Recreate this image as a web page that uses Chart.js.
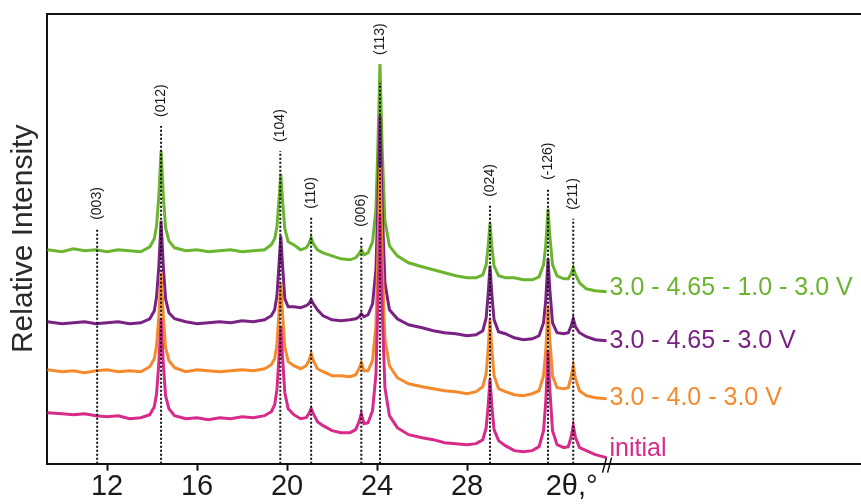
<!DOCTYPE html>
<html>
<head>
<meta charset="utf-8">
<script src="https://cdn.jsdelivr.net/npm/chart.js@4.4.1/dist/chart.umd.min.js"></script>
<style>
  html, body { margin: 0; padding: 0; background: #fff; }
  #wrap { width: 861px; height: 504px; }
</style>
</head>
<body>
<div id="wrap"><canvas id="xrdChart" width="861" height="504"></canvas></div>
<script>
// 2θ positions shared by all four patterns
const twoTheta = [9.35, 10, 10.5, 11, 11.5, 12, 12.5, 13, 13.5, 13.9,
  14.1, 14.2, 14.3, 14.4, 14.5, 14.6, 14.75, 15.0, 15.5, 16,
  16.5, 17, 17.5, 18, 18.5, 19.0, 19.3, 19.45, 19.55, 19.65,
  19.72, 19.8, 19.9, 20.05, 20.3, 20.6, 20.85, 20.97, 21.07, 21.17,
  21.35, 21.6, 22.0, 22.4, 22.8, 23.05, 23.2, 23.3, 23.42, 23.6,
  23.8, 23.95, 24.03, 24.13, 24.23, 24.35, 24.55, 24.9, 25.4, 26,
  26.5, 27, 27.5, 28, 28.4, 28.7, 28.85, 28.94, 29.02, 29.1,
  29.2, 29.4, 29.7, 30.1, 30.5, 30.9, 31.2, 31.4, 31.5, 31.6,
  31.68, 31.8, 32.0, 32.3, 32.5, 32.63, 32.72, 32.82, 33.0, 33.3,
  33.7, 34.2]

// relative intensity (stacked, arbitrary units)
const greenCurve = [214, 212, 215, 213, 214, 212, 214, 213, 212, 217,
  225, 238, 268, 313, 268, 236, 223, 216, 213, 214,
  212, 213, 214, 212, 213, 214, 219, 225, 237, 267,
  290, 263, 235, 222, 219, 214, 216, 220, 226, 220,
  214, 211, 208, 205, 204, 206, 210, 214, 209, 211,
  222, 255, 313, 400, 313, 243, 218, 208, 201, 197,
  194, 191, 188, 186, 186, 189, 199, 218, 241, 218,
  198, 188, 186, 186, 184, 184, 187, 199, 219, 255,
  228, 199, 188, 185, 185, 190, 196, 189, 181, 175,
  173, 172]
const purpleCurve = [142, 140, 141, 142, 140, 141, 142, 140, 141, 145,
  153, 167, 197, 243, 197, 165, 151, 145, 142, 140,
  141, 142, 141, 143, 142, 144, 148, 154, 168, 202,
  228, 198, 165, 157, 157, 156, 158, 160, 164, 160,
  154, 148, 144, 143, 144, 145, 147, 150, 147, 149,
  160, 194, 255, 348, 255, 181, 154, 145, 139, 136,
  133, 131, 130, 128, 129, 133, 146, 170, 198, 170,
  144, 132, 130, 126, 124, 125, 128, 141, 164, 205,
  174, 141, 131, 130, 131, 138, 145, 137, 131, 127,
  124, 123]
const orangeCurve = [94, 92, 93, 91, 93, 94, 92, 93, 92, 97,
  105, 118, 147, 191, 147, 116, 103, 96, 92, 94,
  93, 92, 93, 94, 93, 95, 99, 105, 119, 155,
  181, 150, 117, 102, 98, 95, 98, 103, 110, 103,
  95, 92, 88, 88, 87, 89, 95, 101, 93, 93,
  103, 138, 202, 297, 202, 125, 98, 86, 80, 77,
  75, 73, 72, 70, 72, 77, 90, 115, 145, 115,
  88, 75, 72, 69, 68, 70, 73, 88, 113, 158,
  124, 88, 76, 75, 76, 87, 98, 85, 73, 68,
  66, 65]
const pinkCurve = [51, 50, 49, 50, 48, 47, 48, 45, 46, 49,
  57, 70, 100, 145, 100, 68, 55, 48, 45, 46,
  44, 46, 45, 47, 46, 48, 52, 59, 74, 110,
  138, 106, 71, 55, 49, 45, 46, 50, 55, 50,
  42, 38, 33, 31, 31, 34, 42, 50, 40, 41,
  53, 89, 153, 250, 153, 76, 48, 36, 29, 26,
  24, 21, 20, 19, 20, 24, 36, 58, 85, 58,
  34, 23, 18, 13, 12, 13, 17, 33, 62, 113,
  74, 33, 19, 16, 17, 27, 38, 26, 16, 13,
  9, 6]

const seriesNames = ["3.0 - 4.65 - 1.0 - 3.0 V", "3.0 - 4.65 - 3.0 V", "3.0 - 4.0 - 3.0 V", "initial"]
const seriesColors = ["#6bb42f", "#7a2283", "#f58a2c", "#d82a8b"]

// reflections: dotted marker lines
const reflNames = ["(003)", "(012)", "(104)", "(110)", "(006)", "(113)", "(024)", "(-126)", "(211)"]
const reflPos = [11.56, 14.4, 19.7, 21.07, 23.3, 24.13, 29.02, 31.6, 32.72]
const reflTop = [235, 338, 313, 246, 228, 381, 258, 275, 245]

const xTicks = [12, 16, 20, 24, 28]

const curves = [greenCurve, purpleCurve, orangeCurve, pinkCurve]
const FONT = "'Liberation Sans', Arial, sans-serif"

let reflData = []
for (let i = 0; i < reflPos.length; i++) {
  reflData.push({x: reflPos[i], y: 0})
  reflData.push({x: reflPos[i], y: reflTop[i]})
  reflData.push({x: reflPos[i], y: null})
}

let datasets = []
for (let s = 0; s < curves.length; s++) {
  datasets.push({
    label: seriesNames[s],
    data: twoTheta.map((t, i) => ({x: t, y: curves[s][i]})),
    borderColor: seriesColors[s],
    borderWidth: 3,
    pointRadius: 0,
    tension: 0,
    order: 4 - s
  })
}
datasets.push({
  label: 'reflections',
  data: reflData,
  borderColor: '#111',
  borderWidth: 2,
  borderDash: [2, 2],
  pointRadius: 0,
  spanGaps: false,
  order: 0
})

// text that Chart.js has no slot for: reflection names, curve names, axis break
const annotations = {
  id: 'annotations',
  afterDatasetsDraw(chart) {
    const ctx = chart.ctx
    const xs = chart.scales.x
    const ys = chart.scales.y
    ctx.save()

    // reflection labels, rotated, just above line top (or the highest peak)
    ctx.fillStyle = '#1a1a1a'
    ctx.font = '14px ' + FONT
    ctx.textAlign = 'left'
    ctx.textBaseline = 'middle'
    for (let i = 0; i < reflPos.length; i++) {
      let top = reflTop[i]
      const k = twoTheta.indexOf(reflPos[i])
      if (k >= 0) {
        curves.forEach(c => { if (c[k] > top) top = c[k] })
      }
      const px = xs.getPixelForValue(reflPos[i])
      const py = ys.getPixelForValue(top) - 9
      ctx.save()
      ctx.translate(px, py)
      ctx.rotate(-Math.PI / 2)
      ctx.fillText(reflNames[i], 0, 0)
      ctx.restore()
    }

    // curve names at the right end of each pattern
    const endShift = [-4, 0, -1, -9]
    ctx.font = '25px ' + FONT
    const last = twoTheta.length - 1
    for (let s = 0; s < curves.length; s++) {
      ctx.fillStyle = seriesColors[s]
      ctx.fillText(seriesNames[s],
        xs.getPixelForValue(twoTheta[last]) + 3,
        ys.getPixelForValue(curves[s][last]) + endShift[s])
    }

    // axis name in place of the 32 tick
    ctx.fillStyle = '#1a1a1a'
    ctx.font = '29px ' + FONT
    ctx.textAlign = 'center'
    ctx.fillText('2θ,°', xs.getPixelForValue(32.65), xs.bottom - 17)

    // axis break mark
    const bx = xs.getPixelForValue(twoTheta[last])
    const by = xs.top
    ctx.strokeStyle = '#111'
    ctx.lineWidth = 1.5
    ctx.beginPath()
    ctx.moveTo(bx - 4, by + 9); ctx.lineTo(bx, by - 6)
    ctx.moveTo(bx + 1, by + 9); ctx.lineTo(bx + 5, by - 6)
    ctx.stroke()
    ctx.restore()
  }
}

const ctx = document.getElementById('xrdChart').getContext('2d')
const xrdChart = new Chart(ctx, {
  type: 'line',
  data: { datasets: datasets },
  plugins: [annotations],
  options: {
    responsive: false,
    animation: false,
    layout: { padding: { top: 14, left: 0, right: 0, bottom: 0 } },
    plugins: {
      legend: { display: false },
      tooltip: { enabled: false }
    },
    scales: {
      x: {
        type: 'linear',
        position: 'bottom',
        min: 9.33,
        max: 45.51,
        afterBuildTicks: (scale) => { scale.ticks = xTicks.map(v => ({value: v})) },
        ticks: {
          color: '#1a1a1a',
          padding: 0,
          maxRotation: 0,
          autoSkip: false,
          font: { family: FONT, size: 29, lineHeight: 1.15 }
        },
        grid: {
          drawOnChartArea: false,
          drawTicks: true,
          tickLength: 7,
          tickWidth: 2,
          color: '#111'
        },
        border: { display: true, color: '#111', width: 2 }
      },
      x2: {
        type: 'linear',
        position: 'top',
        min: 9.33,
        max: 45.51,
        ticks: { display: false },
        grid: { display: false, drawTicks: false },
        border: { display: true, color: '#111', width: 2 }
      },
      y: {
        type: 'linear',
        min: 0,
        max: 450,
        ticks: { display: false },
        grid: { display: false, drawTicks: false },
        border: { display: true, color: '#111', width: 2 },
        title: {
          display: true,
          text: 'Relative Intensity',
          color: '#2a2a2a',
          padding: { top: 6, bottom: 5 },
          font: { family: FONT, size: 30, lineHeight: 1.2 }
        }
      }
    }
  }
})
</script>
</body>
</html>
